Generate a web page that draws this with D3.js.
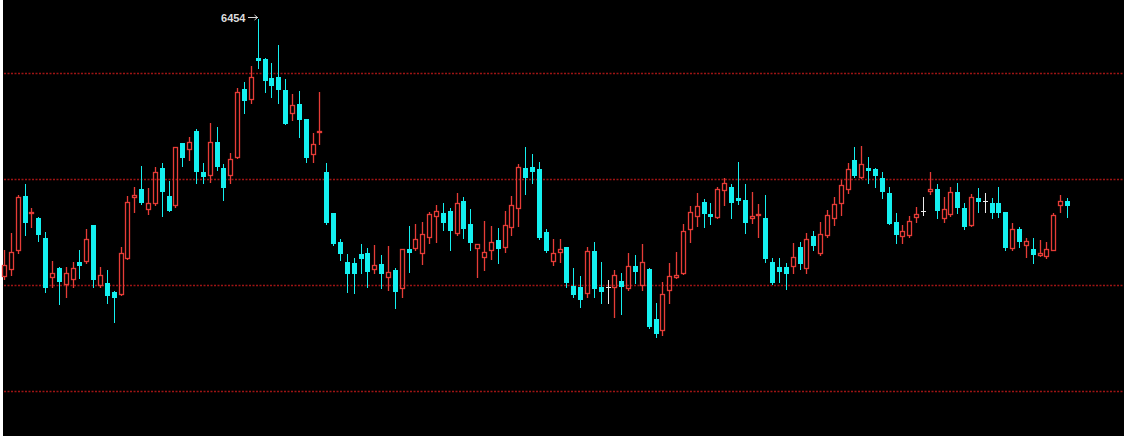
<!DOCTYPE html>
<html>
<head>
<meta charset="utf-8">
<script src="https://cdn.jsdelivr.net/npm/d3@7"></script>
<style>
  html, body { margin: 0; padding: 0; background: #ffffff; }
  svg { display: block; }
</style>
</head>
<body>
<svg id="chart" width="1124" height="439"></svg>
<script>
// ---- data (prices) ----
const opens = [5242,5275,5365,5620,5539,5515,5421,5237,5280,5204,5228,5309,5313,5482,5199,5209,5167,5157,5327,5615,
5653,5559,5587,5751,5620,5577,5870,5841,5926,5733,5718,5874,5751,5718,5803,6124,6077,6270,6266,6176,
6181,6119,6011,6053,5983,5817,5922,5733,5539,5402,5309,5304,5346,5351,5275,5299,5237,5270,5185,5370,
5374,5351,5426,5525,5539,5549,5445,5596,5487,5374,5332,5365,5412,5379,5473,5563,5751,5756,5747,5450,
5313,5356,5379,5195,5190,5162,5360,5190,5190,5190,5218,5185,5289,5199,5275,5039,4988,5176,5237,5256,
5464,5525,5592,5534,5520,5648,5662,5610,5601,5515,5530,5515,5309,5285,5285,5289,5379,5280,5431,5351,
5435,5515,5587,5653,5789,5709,5751,5747,5704,5634,5497,5431,5435,5520,5549,5643,5653,5515,5534,5638,
5563,5482,5610,5596,5587,5587,5544,5374,5464,5388,5370,5341,5336,5365,5577,5596];
const highs = [5365,5445,5624,5676,5563,5520,5450,5313,5283,5285,5309,5365,5464,5484,5285,5270,5170,5379,5620,5662,
5761,5657,5756,5775,5690,5853,5872,5898,5936,5775,5964,5945,5770,5822,6129,6157,6233,6454,6270,6247,
6332,6171,6100,6115,5985,5917,6110,5775,5541,5417,5346,5327,5393,5374,5388,5341,5384,5280,5372,5478,
5487,5497,5544,5577,5587,5563,5634,5615,5559,5395,5501,5478,5469,5549,5620,5770,5851,5817,5780,5464,
5417,5417,5381,5280,5242,5379,5402,5309,5223,5270,5256,5351,5341,5393,5278,5115,5214,5304,5356,5487,
5572,5634,5606,5587,5662,5704,5676,5780,5676,5638,5582,5624,5327,5327,5304,5398,5402,5445,5454,5497,
5553,5615,5695,5775,5851,5855,5803,5751,5733,5662,5539,5482,5525,5568,5615,5733,5676,5615,5662,5681,
5587,5629,5657,5634,5610,5662,5546,5492,5473,5421,5421,5412,5402,5539,5624,5610];
const lows = [5228,5246,5351,5435,5473,5407,5167,5190,5110,5143,5190,5232,5304,5190,5190,5115,5026,5155,5322,5544,
5582,5534,5577,5525,5549,5568,5761,5789,5681,5681,5686,5742,5601,5681,5800,6011,6058,6223,6110,6086,
6058,5959,5978,5898,5780,5780,5865,5487,5388,5318,5167,5162,5256,5190,5256,5185,5176,5091,5143,5261,
5365,5299,5398,5402,5459,5365,5435,5421,5365,5237,5270,5322,5304,5356,5435,5478,5629,5681,5417,5356,
5294,5309,5190,5143,5096,5143,5143,5115,5115,5049,5063,5176,5209,5176,4997,4954,4964,5115,5232,5252,
5402,5478,5473,5487,5518,5577,5515,5582,5445,5492,5426,5309,5204,5214,5181,5256,5275,5256,5365,5341,
5426,5482,5530,5634,5709,5704,5681,5662,5610,5490,5398,5398,5426,5497,5530,5629,5515,5497,5525,5539,
5464,5478,5544,5544,5515,5520,5365,5365,5379,5332,5304,5336,5327,5363,5544,5520];
const closes = [5294,5356,5615,5497,5544,5440,5190,5256,5218,5256,5280,5294,5417,5228,5246,5152,5143,5351,5592,5624,
5592,5587,5733,5643,5553,5851,5803,5874,5737,5714,5874,5761,5662,5794,6110,6072,6181,6261,6167,6143,
6124,5964,6048,5983,5803,5865,5926,5497,5398,5351,5256,5256,5327,5266,5294,5256,5261,5171,5370,5356,
5417,5440,5534,5549,5497,5459,5587,5469,5402,5393,5356,5402,5374,5482,5577,5756,5709,5737,5426,5365,
5351,5370,5214,5157,5134,5360,5185,5171,5190,5246,5195,5289,5266,5309,5006,4973,5157,5242,5246,5454,
5544,5572,5539,5525,5653,5681,5592,5601,5497,5525,5534,5327,5214,5266,5256,5332,5304,5417,5388,5440,
5530,5582,5671,5747,5718,5770,5742,5718,5643,5494,5440,5454,5501,5534,5549,5653,5553,5559,5638,5568,
5478,5615,5596,5596,5544,5544,5379,5464,5407,5407,5346,5351,5370,5530,5596,5577];
const sessions = d3.range(opens.length);          // trading-day index (no dates shown)
const gridLevels = [6200, 5700, 5200, 4700];       // dotted reference lines

// ---- layout / style ----
const W = 1124, H = 439;
const UP = "#e63c37", DOWN = "#14f0f0", DOJI = "#ececec", GRID = "#9e1414";
const svg = d3.select("#chart");

svg.append("rect").attr("x", 3).attr("y", 0).attr("width", W - 3).attr("height", 436).attr("fill", "#000");

const x = d3.scaleLinear().domain([0, sessions.length - 1]).range([4, 1067]);
const y = d3.scaleLinear().domain([4700, 6200]).range([391, 73]);

// grid
svg.append("g").selectAll("line").data(gridLevels).join("line")
  .attr("x1", 4).attr("x2", W)
  .attr("y1", d => Math.round(y(d)) + 0.5).attr("y2", d => Math.round(y(d)) + 0.5)
  .attr("stroke", GRID).attr("stroke-width", 1.4).attr("stroke-dasharray", "2,1.5");

const g = svg.append("g");
const py = v => Math.round(y(v));

sessions.forEach(i => {
  const o = opens[i], h = highs[i], l = lows[i], c = closes[i];
  const cx = Math.round(x(i));
  const lx = cx + 0.5;
  if (c > o) {
    const top = py(c), bot = Math.max(py(o), top + 1);
    g.append("line").attr("x1", lx).attr("x2", lx).attr("y1", py(h)).attr("y2", top).attr("stroke", UP).attr("stroke-width", 1.3);
    g.append("line").attr("x1", lx).attr("x2", lx).attr("y1", bot + 1).attr("y2", py(l) + 1).attr("stroke", UP).attr("stroke-width", 1.3);
    g.append("rect").attr("x", cx - 2 + 0.5).attr("y", top + 0.5).attr("width", 4).attr("height", bot - top)
      .attr("fill", "none").attr("stroke", UP).attr("stroke-width", 1.3);
  } else if (c < o) {
    const top = py(o), bot = Math.max(py(c), top + 1);
    g.append("line").attr("x1", lx).attr("x2", lx).attr("y1", py(h)).attr("y2", py(l) + 1).attr("stroke", DOWN)
      .attr("shape-rendering", "crispEdges");
    g.append("rect").attr("x", cx - 2).attr("y", top).attr("width", 5).attr("height", bot - top + 1)
      .attr("fill", DOWN).attr("shape-rendering", "crispEdges");
  } else {
    g.append("line").attr("x1", lx).attr("x2", lx).attr("y1", py(h)).attr("y2", py(l) + 1).attr("stroke", DOJI)
      .attr("shape-rendering", "crispEdges");
    g.append("line").attr("x1", cx - 2).attr("x2", cx + 3).attr("y1", py(o) + 0.5).attr("y2", py(o) + 0.5).attr("stroke", DOJI)
      .attr("shape-rendering", "crispEdges");
  }
});

// max label
const iMax = d3.maxIndex(highs);
const mx = Math.round(x(iMax)) + 0.5, my = Math.round(y(highs[iMax])) - 1.5;
svg.append("line").attr("x1", mx - 11).attr("x2", mx - 1).attr("y1", my).attr("y2", my)
  .attr("stroke", "#d8d8d8").attr("stroke-width", 1).attr("shape-rendering", "crispEdges");
svg.append("path").attr("d", `M${mx - 1},${my} l-3,-2.5 M${mx - 1},${my} l-3,2.5`)
  .attr("stroke", "#d8d8d8").attr("fill", "none").attr("stroke-width", 1);
svg.append("text").attr("x", mx - 13).attr("y", my + 4).attr("text-anchor", "end")
  .attr("fill", "#dcdcdc").attr("font-family", "Arial, 'Liberation Sans', sans-serif")
  .attr("font-size", 11).attr("font-weight", "bold").text(d3.format("d")(highs[iMax]));
</script>
</body>
</html>
